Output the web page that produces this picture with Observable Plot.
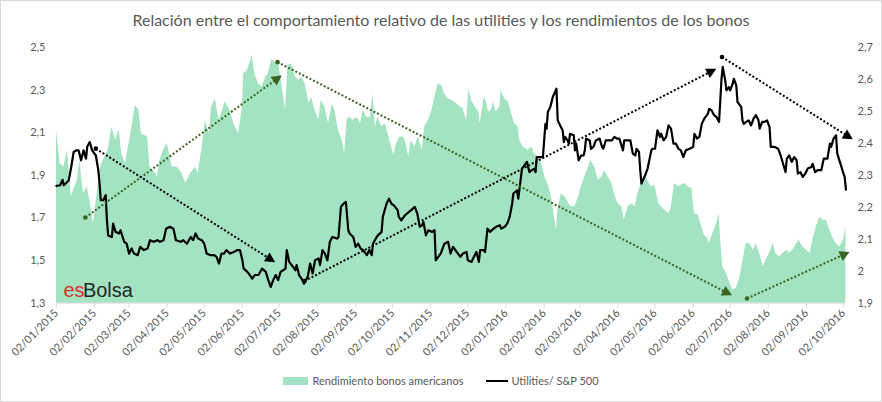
<!DOCTYPE html>
<html>
<head>
<meta charset="utf-8">
<script src="https://cdn.jsdelivr.net/npm/d3@7"></script>
<script src="https://cdn.jsdelivr.net/npm/@observablehq/plot@0.6"></script>
<style>
  html, body { margin: 0; padding: 0; background: #fff; }
  #chart { position: relative; width: 882px; height: 402px; box-sizing: border-box; border: 1px solid #d9d9d9; font-family: Lato, "Open Sans", sans-serif; color: #595959; overflow: hidden; }
  #title { position: absolute; left: -1px; width: 882px; top: 7px; text-align: center; font-size: 16px; line-height: 24px; color: #595959; }
  #plot { position: absolute; left: -1px; top: -1px; }
  #legend { position: absolute; left: -1px; width: 882px; top: 373px; display: flex; justify-content: center; align-items: center; font-size: 11px; color: #595959; }
  .sw-area { display: inline-block; width: 25px; height: 8px; background: #a3e3c1; margin-right: 4px; }
  .sw-line { display: inline-block; width: 22px; height: 2px; background: #000; margin-left: 23px; margin-right: 3px; }
</style>
</head>
<body>
<div id="chart">
  <div id="plot"></div>
  <div id="title">Relación entre el comportamiento relativo de las utilities y los rendimientos de los bonos</div>
  <div id="legend"><span class="sw-area"></span><span>Rendimiento bonos americanos</span><span class="sw-line"></span><span>Utilities/ S&amp;P 500</span></div>
</div>
<script>
// ---- DATA (days counted from 02/01/2015) ----
const startDate = "2015-01-02";

const bondDays = [0,3,6,9,12,17,19,22,25,28,30,33,36,38,42,45,48,51,53,56,60,64,67,69,74,76,79,82,84,87,90,94,98,102,105,109,113,115,118,121,124,126,129,132,134,137,141,144,148,151,152,155,159,161,164,167,170,172,175,178,180,183,186,188,191,194,197,199,202,205,207,210,213,215,218,221,224,226,229,232,234,236,238,241,244,247,249,252,255,257,259,261,264,267,270,272,274,276,279,282,284,286,288,291,294,297,299,302,305,307,310,313,315,318,321,325,328,330,333,335,337,340,343,344,347,348,351,353,355,357,360,361,364,367,370,372,375,376,379,383,386,388,391,394,397,399,402,404,406,407,410,413,416,418,421,424,426,429,432,434,437,440,443,445,448,451,453,456,459,461,464,467,470,472,475,478,480,483,486,489,491,494,497,499,502,505,507,510,513,516,518,521,524,526,529,530,533,536,538,539,541,544,547,549,552,555,557,560,563,566,568,571,574,576,579,582,584,587,590,593,595,598,601,603,606,609,612,614,617,620,622,625,628,630,633,636,639,641];
const bondYield = [2.114,1.955,1.939,2.017,1.798,1.877,1.970,1.814,1.845,1.752,1.673,1.814,1.939,1.970,2.017,2.127,2.064,2.111,2.002,1.955,2.080,2.228,2.205,2.095,2.080,1.939,1.923,1.892,1.970,2.017,2.048,1.939,1.939,1.908,1.861,1.908,1.939,1.908,2.017,2.158,2.095,2.220,2.259,2.158,2.189,2.244,2.205,2.142,2.095,2.220,2.377,2.392,2.462,2.377,2.330,2.314,2.361,2.377,2.447,2.423,2.439,2.330,2.205,2.416,2.423,2.361,2.345,2.361,2.330,2.236,2.267,2.205,2.158,2.252,2.220,2.142,2.236,2.205,2.111,2.064,2.002,2.158,2.173,2.158,2.173,2.142,2.205,2.173,2.173,2.283,2.127,2.173,2.127,2.142,2.080,2.033,1.994,2.048,2.080,2.080,2.048,1.986,2.064,2.033,2.080,2.017,2.127,2.158,2.205,2.259,2.330,2.322,2.283,2.259,2.252,2.236,2.220,2.213,2.158,2.306,2.252,2.220,2.197,2.142,2.252,2.267,2.197,2.205,2.244,2.197,2.220,2.298,2.259,2.244,2.181,2.142,2.127,2.064,2.033,2.017,2.033,2.002,1.986,1.955,1.884,1.861,1.798,1.720,1.642,1.736,1.814,1.798,1.767,1.752,1.752,1.798,1.845,1.892,1.939,1.970,1.939,1.877,1.892,1.923,1.892,1.861,1.814,1.767,1.752,1.689,1.752,1.767,1.752,1.814,1.861,1.900,1.877,1.845,1.853,1.767,1.752,1.736,1.720,1.744,1.861,1.845,1.853,1.861,1.845,1.837,1.720,1.712,1.658,1.619,1.603,1.580,1.627,1.673,1.720,1.627,1.470,1.439,1.392,1.361,1.369,1.423,1.486,1.580,1.580,1.548,1.580,1.533,1.470,1.502,1.533,1.580,1.533,1.517,1.533,1.548,1.533,1.548,1.580,1.595,1.564,1.548,1.533,1.595,1.658,1.705,1.689,1.689,1.642,1.611,1.580,1.564,1.595,1.658];

const ratioDays = [0,3,5,6,10,12,14,16,18,20,22,24,25,27,29,32,34,35,36,38,40,41,42,45,46,48,51,52,55,57,59,61,63,66,68,71,74,76,79,82,84,87,89,92,95,97,101,103,106,109,111,113,115,118,120,122,125,128,130,132,134,136,138,141,144,147,149,151,152,155,157,159,161,164,167,170,172,174,176,178,180,182,184,186,187,189,192,194,195,197,199,201,204,206,208,210,213,214,216,218,220,222,224,228,229,231,233,235,237,238,241,243,245,247,249,252,254,256,257,260,261,264,265,268,270,272,274,277,278,280,283,286,288,291,293,295,297,298,300,302,305,307,308,310,312,314,315,318,320,322,325,328,330,333,334,337,339,341,343,344,347,348,350,352,355,357,360,361,364,366,368,370,371,374,375,376,378,380,382,384,386,388,389,390,393,395,397,398,399,401,402,403,406,407,409,411,412,413,415,416,417,420,421,422,424,426,428,429,430,433,434,436,438,441,443,444,446,449,451,453,455,457,460,461,464,466,468,470,471,473,474,475,478,480,483,484,486,488,490,491,493,495,497,499,501,503,505,507,509,511,514,517,518,520,522,524,526,529,530,532,534,536,538,539,540,541,543,544,546,547,549,550,552,553,556,557,558,560,562,564,566,568,570,571,573,575,577,579,580,583,586,588,590,592,593,595,597,599,601,602,604,606,608,610,613,614,616,618,621,623,626,628,629,631,633,634,637,639,640,641];
const ratioValue = [2.267,2.269,2.286,2.269,2.284,2.326,2.373,2.378,2.378,2.347,2.378,2.352,2.389,2.404,2.378,2.362,2.316,2.274,2.222,2.222,2.238,2.159,2.112,2.107,2.149,2.123,2.118,2.128,2.092,2.086,2.055,2.071,2.055,2.050,2.076,2.066,2.071,2.097,2.092,2.097,2.092,2.097,2.133,2.139,2.133,2.097,2.092,2.097,2.086,2.107,2.097,2.118,2.102,2.097,2.086,2.055,2.050,2.050,2.045,2.024,2.055,2.055,2.066,2.055,2.060,2.066,2.066,2.034,2.008,1.998,1.988,1.977,1.988,1.988,2.008,1.998,1.972,1.951,1.972,1.988,1.972,1.998,2.003,2.008,2.066,2.029,2.014,2.003,2.019,1.988,1.977,1.961,1.982,2.024,1.993,2.034,2.040,2.019,2.066,2.055,2.034,2.092,2.107,2.102,2.107,2.201,2.211,2.217,2.128,2.118,2.107,2.076,2.086,2.071,2.066,2.050,2.066,2.050,2.086,2.107,2.112,2.123,2.170,2.211,2.227,2.211,2.206,2.191,2.170,2.159,2.175,2.185,2.191,2.201,2.180,2.139,2.144,2.154,2.112,2.128,2.123,2.128,2.034,2.045,2.055,2.076,2.086,2.092,2.055,2.076,2.060,2.045,2.055,2.060,2.034,2.029,2.045,2.060,2.029,2.066,2.066,2.060,2.133,2.123,2.133,2.139,2.144,2.133,2.139,2.149,2.170,2.211,2.243,2.253,2.227,2.258,2.321,2.331,2.342,2.310,2.316,2.321,2.310,2.357,2.357,2.357,2.461,2.446,2.498,2.514,2.529,2.545,2.571,2.472,2.456,2.441,2.404,2.420,2.409,2.399,2.430,2.425,2.378,2.399,2.347,2.362,2.362,2.378,2.415,2.409,2.383,2.389,2.409,2.415,2.389,2.383,2.409,2.409,2.409,2.420,2.415,2.415,2.378,2.409,2.409,2.409,2.368,2.362,2.383,2.373,2.316,2.274,2.300,2.321,2.378,2.383,2.383,2.441,2.420,2.430,2.409,2.420,2.456,2.446,2.399,2.399,2.383,2.378,2.357,2.378,2.383,2.389,2.430,2.415,2.420,2.461,2.477,2.493,2.508,2.503,2.488,2.482,2.467,2.534,2.602,2.639,2.597,2.566,2.576,2.566,2.586,2.602,2.581,2.529,2.514,2.472,2.461,2.467,2.472,2.456,2.477,2.488,2.472,2.446,2.467,2.467,2.472,2.451,2.389,2.389,2.383,2.362,2.336,2.310,2.352,2.362,2.342,2.357,2.347,2.305,2.310,2.295,2.305,2.321,2.326,2.336,2.310,2.316,2.316,2.352,2.352,2.399,2.389,2.415,2.425,2.368,2.331,2.305,2.295,2.255];

// Trend arrows (start/end in days and left-axis units), kind selects style
const arrowKind     = ["utilities", "bonos", "bonos", "utilities", "utilities", "bonos"];
const arrowStartDay = [32, 23.5, 179.5, 201.4, 540.4, 560.7];
const arrowStartVal = [2.025, 1.702, 2.431, 1.404, 2.455, 1.322];
const arrowEndDay   = [177.6, 183, 548.5, 535.8, 646.6, 644];
const arrowEndVal   = [1.492, 2.369, 1.337, 2.400, 2.069, 1.540];

// Tick labels
const xTickLabels = ["02/01/2015","02/02/2015","02/03/2015","02/04/2015","02/05/2015","02/06/2015","02/07/2015","02/08/2015","02/09/2015","02/10/2015","02/11/2015","02/12/2015","02/01/2016","02/02/2016","02/03/2016","02/04/2016","02/05/2016","02/06/2016","02/07/2016","02/08/2016","02/09/2016","02/10/2016"];
const leftTicks  = [1.3, 1.5, 1.7, 1.9, 2.1, 2.3, 2.5];
const rightTicks = [1.9, 2.0, 2.1, 2.2, 2.3, 2.4, 2.5, 2.6, 2.7];

// ---- BUILD ----
const parseDMY = d3.utcParse("%d/%m/%Y");
const start = d3.utcParse("%Y-%m-%d")(startDate);
const dayToDate = d => new Date(start.getTime() + d * 864e5);
const LEFT = [1.3, 2.5], RIGHT = [1.9, 2.7];
const toLeft = v => LEFT[0] + (v - RIGHT[0]) * (LEFT[1] - LEFT[0]) / (RIGHT[1] - RIGHT[0]);
const fromLeft = v => RIGHT[0] + (v - LEFT[0]) * (RIGHT[1] - RIGHT[0]) / (LEFT[1] - LEFT[0]);
const fmt = v => String(+(+v).toFixed(1)).replace(".", ",");

const bond = bondDays.map((d, i) => ({date: dayToDate(d), v: bondYield[i]}));
const ratio = ratioDays.map((d, i) => ({date: dayToDate(d), v: ratioValue[i]}));
const xTicks = xTickLabels.map(parseDMY);

const W = 882, H = 370;
const mL = 56, mR = 36, mT = 47, mB = 67;
const xDomain = [start, dayToDate(640.7)];
const yDomain = LEFT;
const sx = Plot.scale({x: {type: "utc", domain: xDomain, range: [mL, W - mR]}});
const sy = Plot.scale({y: {type: "linear", domain: yDomain, range: [H - mB, mT]}});

const colors = {utilities: "#000000", bonos: "#3a6420"};
const HEAD_LEN = 10, HEAD_W = 10.5;
const links = [], heads = [];
arrowKind.forEach((k, i) => {
  const x1 = dayToDate(arrowStartDay[i]), y1 = arrowStartVal[i];
  const x2 = dayToDate(arrowEndDay[i]), y2 = arrowEndVal[i];
  const px1 = sx.apply(x1), py1 = sy.apply(y1), px2 = sx.apply(x2), py2 = sy.apply(y2);
  const len = Math.hypot(px2 - px1, py2 - py1);
  const ux = (px2 - px1) / len, uy = (py2 - py1) / len;
  const bx = px2 - ux * HEAD_LEN, by = py2 - uy * HEAD_LEN;
  const nx = -uy * HEAD_W / 2, ny = ux * HEAD_W / 2;
  links.push({kind: k, x1, y1, x2: sx.invert(bx + ux * 2), y2: sy.invert(by + uy * 2)});
  for (const [px, py] of [[px2, py2], [bx + nx, by + ny], [bx - nx, by - ny]]) {
    heads.push({kind: k, id: i, x: sx.invert(px), y: sy.invert(py)});
  }
});

const arrowMarks = [];
for (const k of ["bonos", "utilities"]) {
  const l = links.filter(d => d.kind === k);
  const h = heads.filter(d => d.kind === k);
  arrowMarks.push(
    Plot.link(l, {x1: "x1", y1: "y1", x2: "x2", y2: "y2", stroke: colors[k], strokeWidth: 2, strokeDasharray: "2,2"}),
    Plot.dot(l, {x: "x1", y: "y1", r: 2.3, fill: colors[k], stroke: "none"}),
    Plot.line(h, {x: "x", y: "y", z: "id", fill: colors[k], stroke: "none"})
  );
}

const chart = Plot.plot({
  width: W, height: H,
  marginLeft: mL, marginRight: mR, marginTop: mT, marginBottom: mB,
  style: {fontFamily: "Lato, 'Open Sans', sans-serif", fontSize: "11px", color: "#595959", background: "transparent", overflow: "visible"},
  x: {type: "utc", domain: xDomain},
  y: {domain: yDomain},
  marks: [
    Plot.areaY(bond, {x: "date", y1: () => LEFT[0], y2: "v", fill: "#a3e3c1"}),
    Plot.ruleY([LEFT[0]], {stroke: "#d9d9d9", strokeWidth: 1}),
    Plot.axisX({ticks: xTicks, tickFormat: d3.utcFormat("%d/%m/%Y"), tickRotate: -45, tickSize: 5, tickPadding: 3, stroke: "#d9d9d9", fill: "#595959", label: null}),
    Plot.axisY({ticks: leftTicks, tickFormat: fmt, tickSize: 0, tickPadding: 11, anchor: "left", label: null, fill: "#595959"}),
    Plot.axisY(rightTicks.map(toLeft), {tickFormat: d => fmt(fromLeft(d)), tickSize: 0, tickPadding: 12, anchor: "right", label: null, fill: "#595959"}),
    Plot.line(ratio, {x: "date", y: d => toLeft(d.v), stroke: "#000", strokeWidth: 2.2, strokeLinejoin: "round"}),
    ...arrowMarks,
    Plot.text(["es"], {frameAnchor: "bottom-left", dx: 7, dy: -6, text: d => d, fill: "#d9302c", fontSize: 20, fontFamily: "'Liberation Sans', Arial, sans-serif", textAnchor: "start"}),
    Plot.text(["Bolsa"], {frameAnchor: "bottom-left", dx: 26.5, dy: -6, text: d => d, fill: "#262626", fontSize: 20, fontFamily: "'Liberation Sans', Arial, sans-serif", textAnchor: "start"})
  ]
});
document.getElementById("plot").appendChild(chart);
</script>
</body>
</html>
